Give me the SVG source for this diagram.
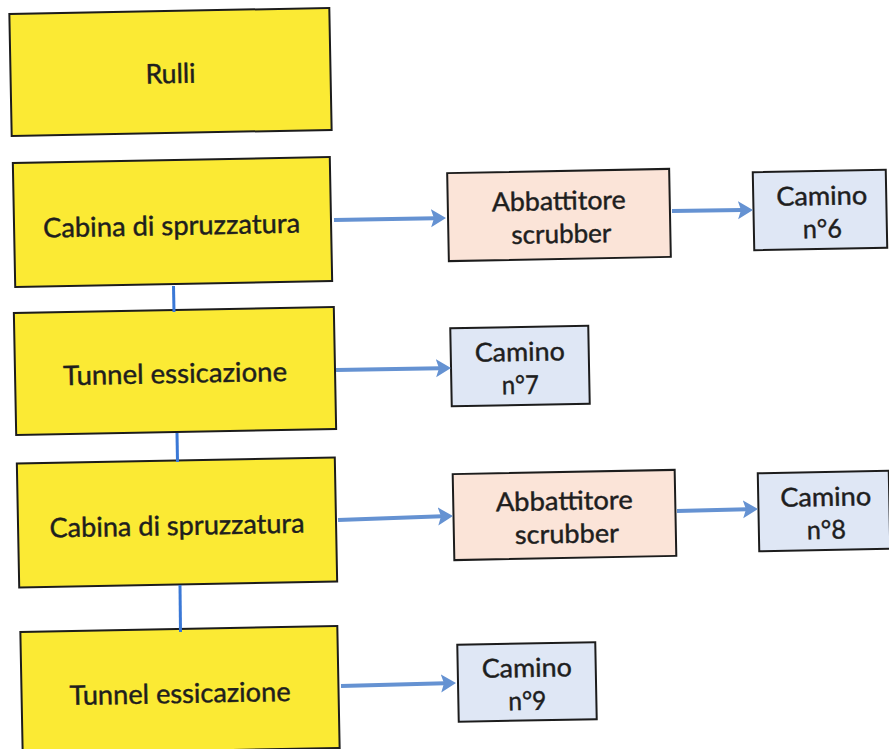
<svg xmlns="http://www.w3.org/2000/svg" width="889" height="749" viewBox="0 0 889 749">
  <style>
    .box { stroke: #1c1c1c; stroke-width: 2; }
    .stage { fill: #fbea34; }
    .scrub { fill: #fbe4d8; }
    .stack { fill: #dfe7f5; }
    text { font-family: Lato, "Liberation Sans", sans-serif; font-size: 27px; fill: #1e1e1e; stroke: #1e1e1e; stroke-width: 0.45; text-anchor: middle; }
    .two { font-size: 26px; }
    .flow { stroke: #6592d2; stroke-width: 4; fill: none; }
    .link { stroke: #3a78d6; stroke-width: 3; fill: none; }
  </style>
  <defs>
    <marker id="head" markerUnits="userSpaceOnUse" markerWidth="17" markerHeight="20" refX="4" refY="10" orient="auto">
      <path d="M0,1 L15,10 L0,19 L3,10 z" fill="#6592d2"/>
    </marker>
  </defs>

  <rect width="889" height="749" fill="#ffffff"/>

  <!-- process line (left column) -->
  <g id="rulli" transform="translate(170.5 72) rotate(-1.1)">
    <rect class="box stage" x="-160" y="-61" width="320" height="122"/>
    <text x="0" y="11" textLength="50" lengthAdjust="spacingAndGlyphs">Rulli</text>
  </g>
  <g id="cabina1" transform="translate(172.5 222) rotate(-1.1)">
    <rect class="box stage" x="-158.5" y="-62" width="317" height="124"/>
    <text x="-1" y="13" textLength="257" lengthAdjust="spacingAndGlyphs">Cabina di spruzzatura</text>
  </g>
  <g id="tunnel1" transform="translate(175 371) rotate(-1.1)">
    <rect class="box stage" x="-160" y="-61" width="320" height="122"/>
    <text x="0" y="12" textLength="224" lengthAdjust="spacingAndGlyphs">Tunnel essicazione</text>
  </g>
  <g id="cabina2" transform="translate(177 522.5) rotate(-1.1)">
    <rect class="box stage" x="-159" y="-62" width="318" height="124"/>
    <text x="0" y="12.5" textLength="255" lengthAdjust="spacingAndGlyphs">Cabina di spruzzatura</text>
  </g>
  <g id="tunnel2" transform="translate(180 690) rotate(-1.1)">
    <rect class="box stage" x="-158.5" y="-61" width="317" height="122"/>
    <text x="0" y="13" textLength="221" lengthAdjust="spacingAndGlyphs">Tunnel essicazione</text>
  </g>

  <!-- scrubbers -->
  <g id="abbattitore1" transform="translate(559 215) rotate(-1.1)">
    <rect class="box scrub" x="-111" y="-44" width="222" height="88"/>
    <text class="two" x="0" y="-5" textLength="134" lengthAdjust="spacingAndGlyphs">Abbattitore</text>
    <text class="two" x="2" y="28" textLength="100" lengthAdjust="spacingAndGlyphs">scrubber</text>
  </g>
  <g id="abbattitore2" transform="translate(564.5 515) rotate(-1.1)">
    <rect class="box scrub" x="-111" y="-43" width="222" height="86"/>
    <text class="two" x="0" y="-5" textLength="137" lengthAdjust="spacingAndGlyphs">Abbattitore</text>
    <text class="two" x="2" y="28" textLength="104" lengthAdjust="spacingAndGlyphs">scrubber</text>
  </g>

  <!-- chimneys -->
  <g id="camino6" transform="translate(820 210) rotate(-1.1)">
    <rect class="box stack" x="-66.5" y="-39" width="133" height="78"/>
    <text class="two" x="2" y="-5" textLength="91" lengthAdjust="spacingAndGlyphs">Camino</text>
    <text class="two" x="2" y="28" textLength="39" lengthAdjust="spacingAndGlyphs">n°6</text>
  </g>
  <g id="camino7" transform="translate(520 366) rotate(-1.1)">
    <rect class="box stack" x="-69" y="-39" width="138" height="78"/>
    <text class="two" x="0" y="-5" textLength="90" lengthAdjust="spacingAndGlyphs">Camino</text>
    <text class="two" x="0" y="28" textLength="37" lengthAdjust="spacingAndGlyphs">n°7</text>
  </g>
  <g id="camino8" transform="translate(824 511) rotate(-1.1)">
    <rect class="box stack" x="-65.5" y="-39" width="131" height="78"/>
    <text class="two" x="2" y="-5" textLength="91" lengthAdjust="spacingAndGlyphs">Camino</text>
    <text class="two" x="2" y="28" textLength="39" lengthAdjust="spacingAndGlyphs">n°8</text>
  </g>
  <g id="camino9" transform="translate(527 682) rotate(-1.1)">
    <rect class="box stack" x="-69" y="-38.5" width="138" height="77"/>
    <text class="two" x="0" y="-5" textLength="90" lengthAdjust="spacingAndGlyphs">Camino</text>
    <text class="two" x="0" y="28" textLength="38" lengthAdjust="spacingAndGlyphs">n°9</text>
  </g>

  <!-- connectors -->
  <g id="connectors">
    <path class="link" d="M173.5,286 L174,312"/>
    <path class="link" d="M177,433 L177.5,462"/>
    <path class="link" d="M180,585 L180.5,632"/>

    <path class="flow" d="M334,220 L435,218.2" marker-end="url(#head)"/>
    <path class="flow" d="M672,211 L742,210.1" marker-end="url(#head)"/>
    <path class="flow" d="M336,370 L440,368.2" marker-end="url(#head)"/>
    <path class="flow" d="M338,520 L442,516.3" marker-end="url(#head)"/>
    <path class="flow" d="M677,511 L747,509.2" marker-end="url(#head)"/>
    <path class="flow" d="M341,686 L445,683.3" marker-end="url(#head)"/>
  </g>
</svg>
